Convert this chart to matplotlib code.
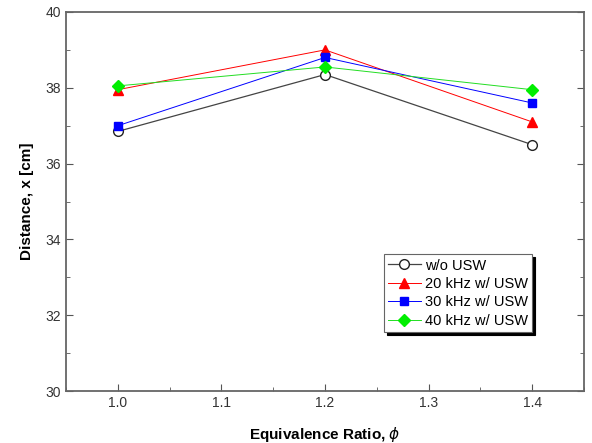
import matplotlib.pyplot as plt
from matplotlib.ticker import MultipleLocator

plt.rcParams['font.family'] = ['Liberation Sans', 'DejaVu Sans']

phi = [1.0, 1.2, 1.4]
wo_usw = [36.85, 38.35, 36.5]
khz20 = [37.95, 39.0, 37.1]
khz30 = [37.0, 38.8, 37.6]
khz40 = [38.05, 38.55, 37.95]

fig = plt.figure(figsize=(5.92, 4.43), dpi=100)
ax = fig.add_axes([0.1115, 0.117, 0.875, 0.856])

ax.plot(phi, wo_usw, color='#444444', lw=0.9, marker='o', ms=7, mfc='white', mec='#222222', label='w/o USW')
ax.plot(phi, khz20, color='red', lw=0.7, marker='^', ms=7, mfc='red', mec='red', label='20 kHz w/ USW')
ax.plot(phi, khz30, color='blue', lw=0.7, marker='s', ms=6, mfc='blue', mec='blue', label='30 kHz w/ USW')
ax.plot(phi, khz40, color='#22dd22', lw=0.7, marker='D', ms=6, mfc='#00ee00', mec='#00ee00', label='40 kHz w/ USW')

ax.set_xlim(0.95, 1.45)
ax.set_ylim(30, 40)
ax.xaxis.set_major_locator(MultipleLocator(0.1))
ax.xaxis.set_minor_locator(MultipleLocator(0.05))
ax.yaxis.set_major_locator(MultipleLocator(2))
ax.yaxis.set_minor_locator(MultipleLocator(1))
ax.xaxis.set_major_formatter(plt.FormatStrFormatter('%.1f'))
ax.tick_params(which='both', direction='in', right=True, top=False, color='#555555', labelsize=10, labelcolor='#333333')
ax.tick_params(which='major', length=5)
ax.tick_params(which='minor', length=3)
for s in ax.spines.values():
    s.set_color('#666666')
    s.set_linewidth(1.3)

ax.set_xlabel('Equivalence Ratio, $\\phi$', fontsize=11, fontweight='bold', labelpad=11)
ax.set_ylabel('Distance, x [cm]', fontsize=11, fontweight='bold', labelpad=8)

leg = ax.legend(loc='lower left', bbox_to_anchor=(0.614, 0.156), fontsize=10.5, frameon=True, fancybox=False,
                shadow={'color': 'black', 'alpha': 1.0}, handlelength=2.2, borderpad=0.3, labelspacing=0.3,
                handletextpad=0.3, borderaxespad=0)
leg.get_frame().set_edgecolor('#666666')
leg.get_frame().set_linewidth(0.8)

fig.savefig('out.png', dpi=100)
